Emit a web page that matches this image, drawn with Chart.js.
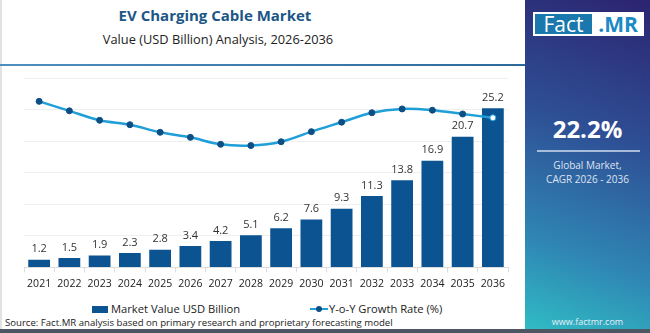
<!DOCTYPE html>
<html>
<head>
<meta charset="utf-8">
<script src="https://cdn.jsdelivr.net/npm/chart.js@4"></script>
<style>
  html, body { margin: 0; padding: 0; background: #fff; }
  body { width: 650px; height: 333px; position: relative; overflow: hidden; font-family: "Open Sans", "Noto Sans", sans-serif; }
  .frame { position: absolute; left: 0; top: 0; width: 524px; height: 329px; border-left: 2px solid #e2e2e2; box-sizing: border-box; }
  .title { position: absolute; left: 0; width: 430px; top: 5px; text-align: center; font-weight: 700; font-size: 15px; color: #1b5687; }
  .subtitle { position: absolute; left: 0; width: 436px; top: 30px; text-align: center; font-size: 12.8px; color: #222; }
  .sep { position: absolute; left: 0; top: 64px; width: 526px; height: 2px; background: linear-gradient(90deg, #4f8fc0, #2c6a9c); }
  .side { position: absolute; left: 525px; top: 0; width: 125px; height: 330px; background: linear-gradient(200deg, #2c2470 0%, #2e4f95 40%, #2f86b4 75%, #30bcc4 100%); }
  .logo { position: absolute; left: 8px; top: 12px; width: 111px; height: 24px; background: #fff; }
  .logo .f { position: absolute; left: 2px; top: 2px; width: 57px; height: 20px; background: #1b78ad; color: #fff; font-size: 21px; line-height: 20px; text-align: center; }
  .logo .m { position: absolute; left: 60px; top: 1px; width: 50px; color: #1b8ac7; font-size: 21px; font-weight: 700; line-height: 22px; text-align: center; }
  .cagr { position: absolute; left: 0; width: 125px; top: 112px; text-align: center; color: #fff; font-weight: 700; font-size: 24px; }
  .rule { position: absolute; left: 12px; top: 150px; width: 103px; height: 2px; background: rgba(210,220,240,0.75); }
  .desc { position: absolute; left: 0; width: 125px; top: 158px; text-align: center; color: #dfe4f2; font-size: 10px; line-height: 14px; }
  .url { position: absolute; left: 0; width: 125px; top: 315px; text-align: center; color: #e8f0f8; font-size: 9px; }
  .bottom { position: absolute; left: 0; top: 329px; width: 650px; height: 4px; background: #4d5663; }
  #wrap { position: absolute; left: 0; top: 66px; width: 525px; height: 229px; }
  .legend { position: absolute; top: 301px; left: 0; width: 525px; font-size: 11.2px; color: #222; }
  .legend .i1 { position: absolute; left: 92px; top: 0; }
  .legend .i2 { position: absolute; left: 310px; top: 0; }
  .box { display: inline-block; width: 16px; height: 7px; background: #0b5391; vertical-align: middle; margin-right: 3px; position: relative; top: -1px; }
  .ln { display: inline-block; width: 18px; height: 2px; background: #1e9fd8; vertical-align: middle; position: relative; top: -1px; margin-right: 1px; }
  .ln:after { content: ""; position: absolute; left: 6px; top: -2px; width: 6px; height: 6px; border-radius: 3px; background: #0d4f85; }
  .source { position: absolute; left: 5px; top: 316px; font-size: 9.6px; color: #222; }
</style>
</head>
<body>
<div class="frame"></div>
<div class="title">EV Charging Cable Market</div>
<div class="subtitle">Value (USD Billion) Analysis, 2026-2036</div>
<div class="sep"></div>
<div id="wrap"><canvas id="chart"></canvas></div>
<div class="legend">
  <span class="i1"><span class="box"></span>Market Value USD Billion</span>
  <span class="i2"><span class="ln"></span>Y-o-Y Growth Rate (%)</span>
</div>
<div class="source">Source: Fact.MR analysis based on primary research and proprietary forecasting model</div>
<div class="side">
  <div class="logo"><div class="f">Fact</div><div class="m">.MR</div></div>
  <div class="cagr">22.2%</div>
  <div class="rule"></div>
  <div class="desc">Global Market,<br>CAGR 2026 - 2036</div>
  <div class="url">www.factmr.com</div>
</div>
<div class="bottom"></div>
<script>
const years = ['2021', '2022', '2023', '2024', '2025', '2026', '2027', '2028', '2029', '2030', '2031', '2032', '2033', '2034', '2035', '2036'];
const marketValue = [1.2, 1.5, 1.9, 2.3, 2.8, 3.4, 4.2, 5.1, 6.2, 7.6, 9.3, 11.3, 13.8, 16.9, 20.7, 25.2];
const growthRate = [26.3, 24.8, 23.3, 22.6, 21.4, 20.6, 19.5, 19.3, 19.9, 21.5, 23.0, 24.5, 25.1, 24.9, 24.3, 23.7];

const barLabels = {
  id: 'barLabels',
  afterDatasetsDraw(chart) {
    const ctx = chart.ctx;
    const meta = chart.getDatasetMeta(1);
    ctx.save();
    ctx.font = '11px "Open Sans", sans-serif';
    ctx.fillStyle = '#333';
    ctx.textAlign = 'center';
    ctx.textBaseline = 'bottom';
    meta.data.forEach((bar, i) => {
      ctx.fillText(marketValue[i].toFixed(1), bar.x, bar.y - 5);
    });
    ctx.restore();
  }
};

new Chart(document.getElementById('chart'), {
  data: {
    labels: years,
    datasets: [
      {
        type: 'line', label: 'Y-o-Y Growth Rate (%)', data: growthRate, yAxisID: 'y1',
        borderColor: '#1e9fd8', borderWidth: 2.5, tension: 0.35,
        pointRadius: 3, pointBorderWidth: 1,
        pointBackgroundColor: growthRate.map((v, i) => i === growthRate.length - 1 ? '#fff' : '#0d4f85'),
        pointBorderColor: growthRate.map((v, i) => i === growthRate.length - 1 ? '#1e9fd8' : '#0d4f85'),
        order: 0
      },
      {
        type: 'bar', label: 'Market Value USD Billion', data: marketValue, yAxisID: 'y',
        backgroundColor: '#0b5391', categoryPercentage: 1, barPercentage: 0.72, order: 1
      }
    ]
  },
  options: {
    responsive: true, maintainAspectRatio: false, animation: false,
    layout: { padding: { left: 24, right: 17, top: 12, bottom: 0 } },
    plugins: { legend: { display: false }, tooltip: { enabled: false } },
    scales: {
      x: {
        grid: { drawOnChartArea: false, tickLength: 5, color: '#ddd', offset: true },
        border: { color: '#ddd' },
        ticks: { color: '#222', padding: 5, maxRotation: 0, minRotation: 0, autoSkip: false, font: { size: 10.5, family: '"Open Sans", sans-serif' } }
      },
      y: {
        display: true, min: 0, max: 30,
        ticks: { display: false, stepSize: 5 },
        grid: { color: '#efefef', drawTicks: false },
        border: { display: false }
      },
      y1: { display: false, min: 0, max: 30 }
    }
  },
  plugins: [barLabels]
});
</script>
</body>
</html>
